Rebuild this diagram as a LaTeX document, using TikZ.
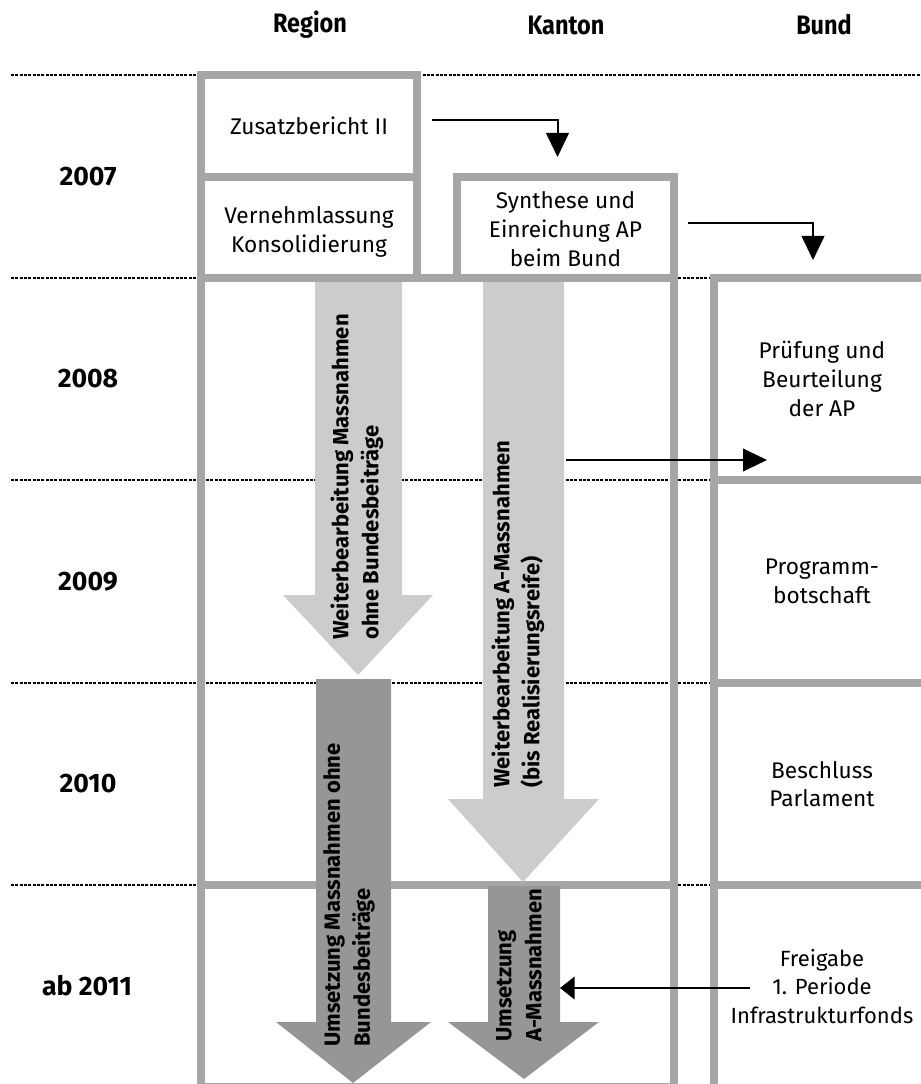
\documentclass[tikz,border=0pt]{standalone}
\usepackage{fontspec}
\usepackage{graphicx}
\setmainfont{Fira Sans}
\usetikzlibrary{calc,arrows.meta}
\definecolor{framegray}{HTML}{A6A6A6}
\definecolor{lightarrow}{HTML}{CCCCCC}
\definecolor{darkarrow}{HTML}{969696}
\newcommand{\hdrtext}[1]{\scalebox{0.88}[1]{#1}}
\begin{document}
\begin{tikzpicture}[x=0.75pt,y=-0.75pt,
  hdr/.style={font=\bfseries\fontsize{20}{22}\selectfont, inner sep=0},
  yearlbl/.style={font=\bfseries\fontsize{20}{22}\selectfont, inner sep=0},
  dotline/.style={line width=1.8pt, dash pattern=on 2.25pt off 1pt},
  frameline/.style={draw=framegray, line width=6pt},
  box/.style={draw=framegray, line width=6pt, align=center, inner sep=0,
    font=\fontsize{17}{21.5}\selectfont},
  rot/.style={rotate=90, anchor=west, align=left, inner sep=0,
    font=\bfseries\fontsize{16.5}{22.5}\selectfont},
  conn/.style={line width=1.5pt, -{Triangle[length=18pt,width=17pt]}},
  connshort/.style={line width=1.5pt, -{Triangle[length=11pt,width=17pt]}}
]
\useasboundingbox (0,0) rectangle (920,1084);

% headers
\node[hdr] (hR) at (310,25) {\hdrtext{Region}};
\node[hdr] (hK) at (566,25) {\hdrtext{Kanton}};
\node[hdr] (hB) at (824,25) {\hdrtext{Bund}};

% years
\node[yearlbl] (y07) at (88,176.5) {2007};
\node[yearlbl] (y08) at (88,379) {2008};
\node[yearlbl] (y09) at (88,581.5) {2009};
\node[yearlbl] (y10) at (88,784) {2010};
\node[yearlbl] (y11) at (87,986) {ab 2011};

% dotted row separators
\foreach \yy in {75,278,480,683,885}
  \draw[dotline] (11,\yy) -- (920,\yy);

% region / kanton boxes 2007
\node[box, minimum width=162pt, minimum height=76.5pt] (zus) at (309,126) {Zusatzbericht II};
\node[box, minimum width=162pt, minimum height=75.75pt] (vern) at (309,227.5) {\rule{0pt}{19pt}Vernehmlassung\\Konsolidierung};
\node[box, minimum width=162.75pt, minimum height=75.75pt] (synth) at (565.5,227.5) {\rule{0pt}{15pt}Synthese und\\Einreichung AP\\beim Bund};

% big frame region + kanton
\draw[frameline] (201,278) rectangle (674,1087);
\draw[frameline] (201,885) -- (674,885);

% Bund boxes
\node[box, minimum width=162pt, minimum height=151.5pt] (bund1) at (822,379) {Prüfung und\\Beurteilung\\der AP};
\node[box, minimum width=162pt, minimum height=152.25pt] (bund2) at (822,581.5) {Programm-\\botschaft};
\node[box, minimum width=162pt, minimum height=151.5pt] (bund3) at (822,784) {Beschluss\\Parlament};
\node[box, minimum width=162pt, minimum height=152.25pt, font=\fontsize{16.5}{21.5}\selectfont] (bund4) at (822,986.5) {Freigabe\\1. Periode\\Infrastrukturfonds};

% big arrows
\fill[lightarrow] (315,282) -- (402,282) -- (402,595) -- (433,595) -- (358,675) -- (283,595) -- (315,595) -- cycle;
\fill[darkarrow] (316,679) -- (391,679) -- (391,1022) -- (431,1022) -- (353,1083) -- (276,1022) -- (316,1022) -- cycle;
\fill[lightarrow] (483,282) -- (564,282) -- (564,799) -- (599,799) -- (523,882) -- (448,799) -- (483,799) -- cycle;
\fill[darkarrow] (488,886) -- (560,886) -- (560,1022) -- (599,1022) -- (524,1079) -- (448,1022) -- (488,1022) -- cycle;

\coordinate (Bedge) at (566,460);
\coordinate (Bdedge) at (560,988);

% arrow texts
\node[rot] (tA1) at (357,640) {Weiterbearbeitung Massnahmen\\ohne Bundesbeiträge};
\node[rot] (tB1) at (518,788) {Weiterbearbeitung A-Massnahmen\\(bis Realisierungsreife)};
\node[rot] (tA2) at (349,1047) {Umsetzung Massnahmen ohne\\Bundesbeiträge};
\node[rot] (tB2) at (519,1042) {Umsetzung\\A-Massnahmen};

% black connectors
\draw[conn] ($(zus.east)+(11,-6)$) -| ($(synth.north)+(-8,-16)$);
\draw[conn] ($(synth.east)+(10,-4)$) -| ($(bund1.north)+(-9,-14)$);
\draw[conn] (Bedge) -- ($(bund1.west)+(57,81)$);
\draw[connshort] ($(bund4.west)+(40,1.5)$) -- (Bdedge);
\end{tikzpicture}
\end{document}
